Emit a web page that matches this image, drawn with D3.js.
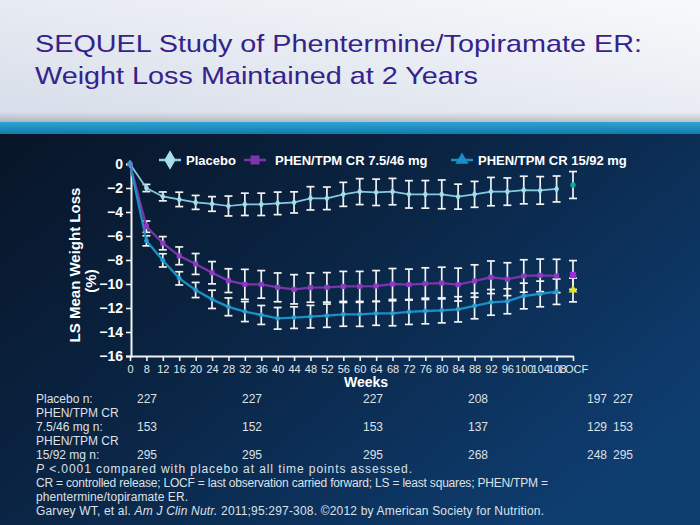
<!DOCTYPE html>
<html><head><meta charset="utf-8">
<script src="https://cdn.jsdelivr.net/npm/d3@7"></script>
<style>
body{margin:0;background:#0a1a33;}
svg{display:block;font-family:"Liberation Sans",Arial,sans-serif;}
</style>
</head><body><svg id="c" width="700" height="525"></svg>
<script>
// ---------- DATA ----------
const weeks = ["0","8","12","16","20","24","28","32","36","40","44","48","52","56","60","64","68","72","76","80","84","88","92","96","100","104","108","LOCF"];
const seriesNames = ["Placebo","PHEN/TPM CR 7.5/46 mg","PHEN/TPM CR 15/92 mg"];
const placebo    = [0,-2.0,-2.7,-2.95,-3.2,-3.33,-3.5,-3.36,-3.36,-3.28,-3.2,-2.86,-2.86,-2.53,-2.3,-2.36,-2.3,-2.53,-2.53,-2.53,-2.72,-2.53,-2.3,-2.3,-2.17,-2.2,-2.08,-1.75];
const placeboErr = [0,0.3,0.37,0.6,0.58,0.61,0.83,0.93,0.93,0.94,0.88,0.97,0.94,1.0,1.08,1.1,1.1,1.14,1.15,1.2,1.04,1.08,1.18,1.14,1.15,1.15,1.08,1.12];
const mid        = [0,-5.22,-6.6,-7.65,-8.33,-9.06,-9.72,-10.03,-10.03,-10.28,-10.44,-10.3,-10.28,-10.2,-10.2,-10.17,-10.0,-10.05,-9.97,-9.92,-10.05,-9.75,-9.44,-9.6,-9.33,-9.28,-9.33,-9.25];
const midErr     = [0,0.47,0.55,0.74,0.87,0.93,0.99,1.25,1.15,1.2,1.22,1.22,1.23,1.25,1.25,1.29,1.29,1.29,1.32,1.32,1.37,1.35,1.36,1.37,1.35,1.36,1.39,1.2];
const high       = [0,-6.4,-8.03,-9.53,-10.5,-11.28,-11.9,-12.3,-12.58,-12.86,-12.8,-12.72,-12.64,-12.53,-12.53,-12.44,-12.44,-12.33,-12.25,-12.2,-12.11,-11.83,-11.53,-11.44,-11.0,-10.83,-10.64,-10.5];
const highErr    = [0,0.42,0.55,0.55,0.63,0.76,0.74,0.83,0.79,0.9,0.9,0.94,0.97,0.99,1.0,1.0,1.04,1.04,1.07,1.04,1.05,1.07,1.07,1.04,1.07,1.07,1.06,0.99];
const yTicks = [0,-2,-4,-6,-8,-10,-12,-14,-16];
const titleLines = ["SEQUEL Study of Phentermine/Topiramate ER:","Weight Loss Maintained at 2 Years"];
const yLabel = ["LS Mean Weight Loss","(%)"];
const xLabel = "Weeks";
const tableRowLabels = ["Placebo n:","PHEN/TPM CR","7.5/46 mg n:","PHEN/TPM CR","15/92 mg n:"];
const nPlacebo = ["227","227","227","208","197","227"];
const nMid     = ["153","152","153","137","129","153"];
const nHigh    = ["295","295","295","268","248","295"];

// ---------- LAYOUT ----------
const svg = d3.select("#c");
const defs = svg.append("defs");
const g1 = defs.append("linearGradient").attr("id","hdr").attr("x1",0).attr("y1",1).attr("x2",1).attr("y2",0);
g1.append("stop").attr("offset","0%").attr("stop-color","#d6dde9");
g1.append("stop").attr("offset","100%").attr("stop-color","#f8f9fb");
const g2 = defs.append("linearGradient").attr("id","dark").attr("x1",0).attr("y1",0).attr("x2",1).attr("y2",0.7);
g2.append("stop").attr("offset","0%").attr("stop-color","#081527");
g2.append("stop").attr("offset","45%").attr("stop-color","#0a2443");
g2.append("stop").attr("offset","100%").attr("stop-color","#0e3d70");
const g3 = defs.append("linearGradient").attr("id","teal").attr("x1",0).attr("y1",0).attr("x2",0).attr("y2",1);
g3.append("stop").attr("offset","0%").attr("stop-color","#2fa3d2");
g3.append("stop").attr("offset","100%").attr("stop-color","#117cae");
const g4 = defs.append("linearGradient").attr("id","shd").attr("x1",0).attr("y1",0).attr("x2",0).attr("y2",1);
g4.append("stop").attr("offset","0%").attr("stop-color","#000").attr("stop-opacity",0);
g4.append("stop").attr("offset","100%").attr("stop-color","#000").attr("stop-opacity",0.18);

svg.append("rect").attr("width",700).attr("height",122).attr("fill","url(#hdr)");
svg.append("rect").attr("y",112).attr("width",700).attr("height",10).attr("fill","url(#shd)");
svg.append("rect").attr("y",122).attr("width",700).attr("height",12).attr("fill","url(#teal)");
svg.append("rect").attr("y",134).attr("width",700).attr("height",391).attr("fill","url(#dark)");

// title (source slide is stretched horizontally ~1.2x)
titleLines.forEach((t,i)=>{
  svg.append("text").attr("transform",`translate(35,${52+i*32}) scale(1.2,1)`).attr("font-size",24)
    .attr("fill","#36228a").text(t);
});

// scales
const x = d3.scalePoint().domain(weeks).range([130,573]);
const y = d3.scaleLinear().domain([-16,0]).range([356,164]);

// axes
const yAxis = svg.append("g").attr("transform","translate(131,0)")
  .call(d3.axisLeft(y).tickValues(yTicks).tickSize(5).tickPadding(3)
    .tickFormat(d=> d===0 ? "0" : "\u2212"+Math.abs(d)));
yAxis.select(".domain").attr("stroke","#f2f2f2").attr("stroke-width",2);
yAxis.selectAll(".tick line").attr("stroke","#f2f2f2").attr("stroke-width",1.6);
yAxis.selectAll(".tick text").attr("fill","#ffffff").attr("font-size",14).attr("font-weight","bold")
  .attr("font-family","'Liberation Sans',Arial,sans-serif");

const xAxis = svg.append("g").attr("transform","translate(0,356)")
  .call(d3.axisBottom(x).tickSize(5).tickPadding(4).tickSizeOuter(0));
xAxis.select(".domain").attr("stroke","#f2f2f2").attr("stroke-width",2);
xAxis.selectAll(".tick line").attr("stroke","#f2f2f2").attr("stroke-width",1.6);
xAxis.selectAll(".tick text").attr("fill","#e4e8ee").attr("font-size",11)
  .attr("font-family","'Liberation Sans',Arial,sans-serif");

svg.append("text").attr("x",366).attr("y",387).attr("text-anchor","middle").attr("fill","#fff")
  .attr("font-size",14).attr("font-weight","bold").text(xLabel);
svg.append("text").attr("transform","translate(80,265) rotate(-90)").attr("text-anchor","middle")
  .attr("fill","#fff").attr("font-size",15).attr("font-weight","bold").text(yLabel[0]);
svg.append("text").attr("transform","translate(96,281) rotate(-90)").attr("text-anchor","middle")
  .attr("fill","#fff").attr("font-size",15).attr("font-weight","bold").text(yLabel[1]);

// series
const series = [
  {vals:placebo, err:placeboErr, line:"#86c9dc", lw:1.7, mk:"#a6dcea", sym:d3.symbolDiamond, size:22, locf:"#1aa3a3", locfSym:d3.symbolCircle, locfSize:22},
  {vals:mid, err:midErr, line:"#7b35aa", lw:2.3, mk:"#8a3cc0", sym:d3.symbolSquare, size:26, locf:"#9a2fd6", locfSym:d3.symbolSquare, locfSize:40},
  {vals:high, err:highErr, line:"#1c8fc3", lw:2.3, mk:"#2aa0d0", sym:d3.symbolCircle, size:18, locf:"#e8e21a", locfSym:d3.symbolTriangle, locfSize:34}
];
const n = weeks.length;
const lineGen = d3.line().x((d,i)=>x(weeks[i])).y(d=>y(d));

// error bars
series.forEach(s=>{
  const g = svg.append("g");
  weeks.forEach((w,i)=>{
    if(s.err[i]<=0) return;
    const cx = x(w), t = y(s.vals[i]+s.err[i]), b = y(s.vals[i]-s.err[i]);
    g.append("line").attr("x1",cx).attr("x2",cx).attr("y1",t).attr("y2",b).attr("stroke","#f4f4f4").attr("stroke-width",1.7);
    g.append("line").attr("x1",cx-4).attr("x2",cx+4).attr("y1",t).attr("y2",t).attr("stroke","#f4f4f4").attr("stroke-width",1.7);
    g.append("line").attr("x1",cx-4).attr("x2",cx+4).attr("y1",b).attr("y2",b).attr("stroke","#f4f4f4").attr("stroke-width",1.7);
  });
});
// lines (exclude LOCF)
series.forEach(s=>{
  svg.append("path").attr("d",lineGen(s.vals.slice(0,n-1))).attr("fill","none")
    .attr("stroke",s.line).attr("stroke-width",s.lw);
});
// markers
series.forEach(s=>{
  weeks.forEach((w,i)=>{
    const isL = i===n-1;
    svg.append("path").attr("transform",`translate(${x(w)},${y(s.vals[i])})`)
      .attr("d",d3.symbol().type(isL?s.locfSym:s.sym).size(isL?s.locfSize:s.size)())
      .attr("fill",isL?s.locf:s.mk);
  });
});

// legend
const leg = [
  {x1:159,x2:181,c:"#8ecfe0",sym:d3.symbolDiamond,size:110,mc:"#a8dde9",tx:186},
  {x1:244,x2:266,c:"#7b35aa",sym:d3.symbolSquare,size:80,mc:"#7d35ad",tx:275},
  {x1:451,x2:473,c:"#1c8fc3",sym:d3.symbolTriangle,size:75,mc:"#1c8fc3",tx:478}
];
leg.forEach((l,i)=>{
  svg.append("line").attr("x1",l.x1).attr("x2",l.x2).attr("y1",160).attr("y2",160).attr("stroke",l.c).attr("stroke-width",2.5);
  svg.append("path").attr("transform",`translate(${(l.x1+l.x2)/2},160)`).attr("d",d3.symbol().type(l.sym).size(l.size)()).attr("fill",l.mc);
  svg.append("text").attr("x",l.tx).attr("y",165).attr("fill","#fff").attr("font-size",13).attr("font-weight","bold").text(seriesNames[i]);
});

// table
const colX = [137,242,363,468,587,613];
const tbl = svg.append("g").attr("fill","#dde1e7").attr("font-size",12);
tableRowLabels.forEach((t,i)=>{
  tbl.append("text").attr("x",36).attr("y",403+i*14).text(t);
});
[[nPlacebo,403],[nMid,431],[nHigh,459]].forEach(([arr,yy])=>{
  arr.forEach((v,j)=>tbl.append("text").attr("x",colX[j]).attr("y",yy).text(v));
});

// footnotes
const fn = svg.append("g").attr("fill","#dde1e7").attr("font-size",12);
const f1 = fn.append("text").attr("x",36).attr("y",473).attr("textLength",376).attr("lengthAdjust","spacing");
f1.append("tspan").attr("font-style","italic").text("P");
f1.append("tspan").text(" <.0001 compared with placebo at all time points assessed.");
fn.append("text").attr("x",36).attr("y",487).attr("textLength",512).attr("lengthAdjust","spacing")
  .text("CR = controlled release; LOCF = last observation carried forward; LS = least squares; PHEN/TPM =");
fn.append("text").attr("x",36).attr("y",501).attr("textLength",152).attr("lengthAdjust","spacing")
  .text("phentermine/topiramate ER.");
const f4 = fn.append("text").attr("x",36).attr("y",515).attr("textLength",508).attr("lengthAdjust","spacing");
f4.append("tspan").text("Garvey WT, et al. ");
f4.append("tspan").attr("font-style","italic").text("Am J Clin Nutr.");
f4.append("tspan").text(" 2011;95:297-308. \u00A92012 by American Society for Nutrition.");
</script>
</body></html>
